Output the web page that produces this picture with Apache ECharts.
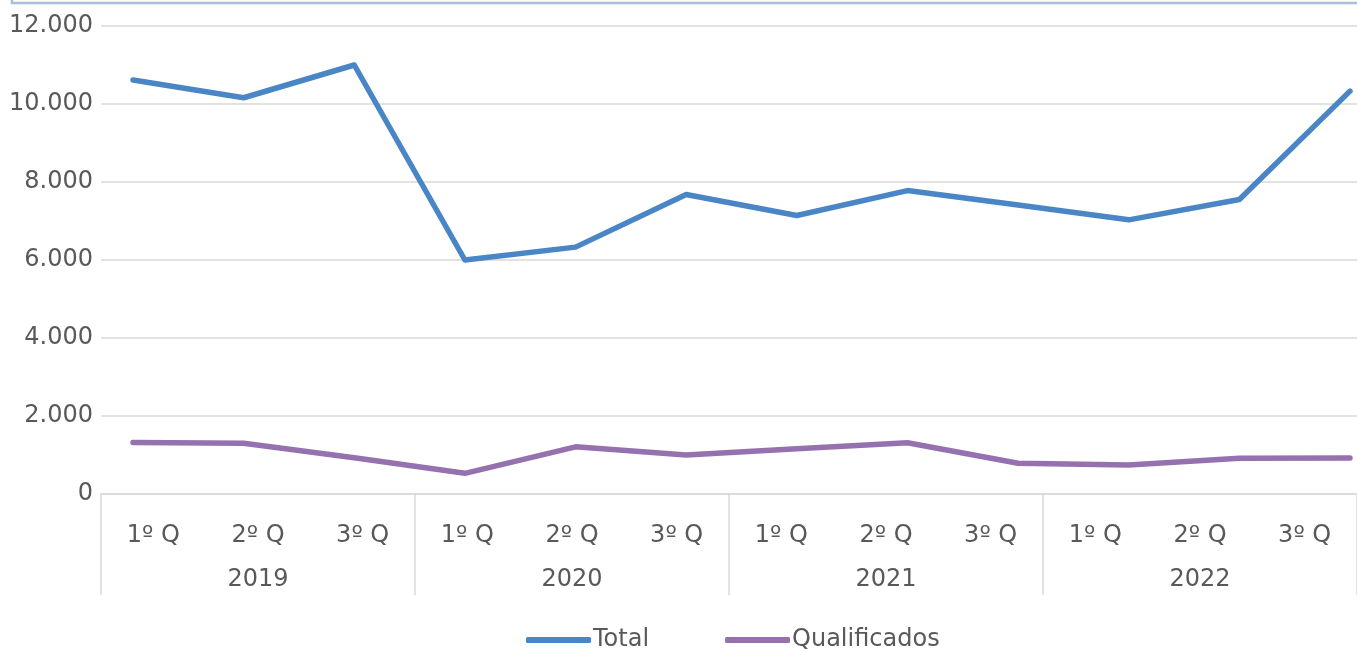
<!DOCTYPE html>
<html>
<head>
<meta charset="utf-8">
<script src="https://cdn.jsdelivr.net/npm/echarts@6/dist/echarts.min.js"></script>
<style>
  html, body { margin: 0; padding: 0; background: #ffffff; }
  #chart { width: 1357px; height: 652px; }
</style>
</head>
<body>
<div id="chart"></div>
<script>
// ---- data ----
const quarters = ['1º Q', '2º Q', '3º Q', '1º Q', '2º Q', '3º Q', '1º Q', '2º Q', '3º Q', '1º Q', '2º Q', '3º Q'];
const years = ['2019', '2020', '2021', '2022'];
const totalValues = [10615, 10160, 11000, 6000, 6330, 7680, 7140, 7780, 7410, 7030, 7550, 10330];
const qualificadosValues = [1320, 1300, 930, 530, 1210, 1000, 1160, 1315, 790, 745, 915, 920];
const seriesNames = ['Total', 'Qualificados'];
const yTicks = { min: 0, max: 12000, interval: 2000 };

const FONT = 'DejaVu Sans';
const FS = 24;
const TEXT = '#595959';
const GRIDC = '#d9d9d9';

const chart = echarts.init(document.getElementById('chart'), null, { renderer: 'canvas' });

function fmt(v) {
  return String(v).replace(/\B(?=(\d{3})+(?!\d))/g, '.');
}

chart.setOption({
  animation: false,
  backgroundColor: '#ffffff',
  textStyle: { fontFamily: FONT, color: TEXT },
  graphic: [{
    type: 'polyline',
    shape: { points: [[12, 0], [12, 3], [1357, 3]] },
    style: { stroke: '#a9c0da', lineWidth: 2.5, fill: null }
  }],
  legend: {
    left: 521,
    top: 623,
    itemWidth: 65,
    itemHeight: 6,
    itemGap: 76,
    icon: 'roundRect',
    textStyle: { fontFamily: FONT, fontSize: FS, color: TEXT, padding: [0, 0, 0, -3] },
    data: seriesNames
  },
  grid: [
    { left: 101, right: 0, top: 26, bottom: 158 },
    { left: 133, right: 7, top: 26, bottom: 158 }
  ],
  xAxis: [
    {
      gridIndex: 0, type: 'category', data: quarters, boundaryGap: true,
      axisLine: { show: true, lineStyle: { color: GRIDC, width: 1.5 } },
      axisTick: { show: false },
      axisLabel: { interval: 0, margin: 30, fontFamily: FONT, fontSize: FS, color: TEXT }
    },
    {
      gridIndex: 0, type: 'category', data: years, boundaryGap: true, position: 'bottom',
      axisLine: { show: false },
      axisTick: { show: true, interval: 0, length: 101, lineStyle: { color: GRIDC, width: 1.5 } },
      axisLabel: { interval: 0, margin: 74, fontFamily: FONT, fontSize: FS, color: TEXT }
    },
    {
      gridIndex: 1, type: 'category', data: quarters.map((q, i) => q + ' ' + years[Math.floor(i / 3)]),
      boundaryGap: false, show: false
    }
  ],
  yAxis: [
    {
      gridIndex: 0, type: 'value', min: yTicks.min, max: yTicks.max, interval: yTicks.interval,
      axisLine: { show: false }, axisTick: { show: false },
      splitLine: { show: true, lineStyle: { color: GRIDC, width: 1.5 } },
      axisLabel: { margin: 8, fontFamily: FONT, fontSize: FS, color: TEXT, formatter: fmt }
    },
    {
      gridIndex: 1, type: 'value', min: yTicks.min, max: yTicks.max, interval: yTicks.interval, show: false,
      splitLine: { show: false }
    }
  ],
  series: [
    {
      name: seriesNames[0], type: 'line', xAxisIndex: 2, yAxisIndex: 1,
      data: totalValues, symbol: 'none', color: '#4a86c6',
      lineStyle: { width: 5.5, color: '#4a86c6', cap: 'round', join: 'round' }
    },
    {
      name: seriesNames[1], type: 'line', xAxisIndex: 2, yAxisIndex: 1,
      data: qualificadosValues, symbol: 'none', color: '#9671b0',
      lineStyle: { width: 5.5, color: '#9671b0', cap: 'round', join: 'round' }
    }
  ]
});
</script>
</body>
</html>
